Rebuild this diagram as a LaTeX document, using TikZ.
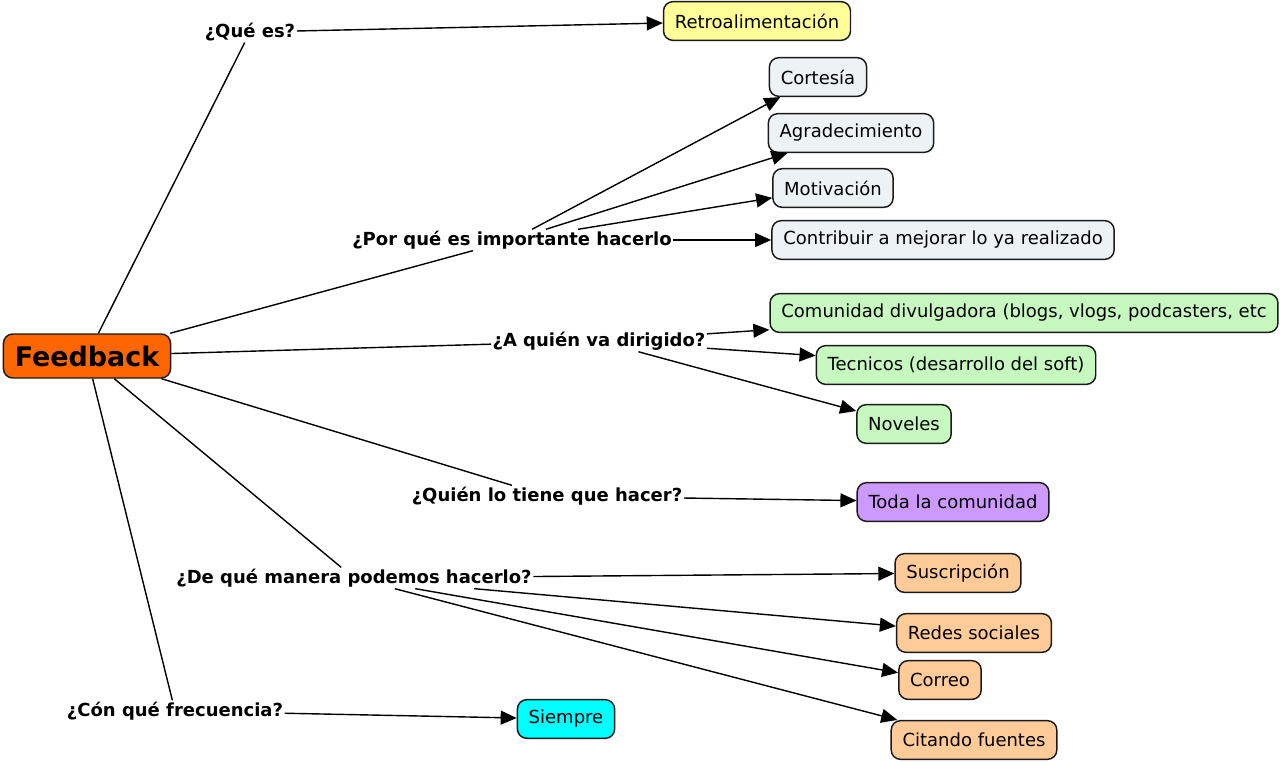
\documentclass[tikz,border=0pt]{standalone}
\usepackage{fontspec}
\setmainfont{DejaVu Sans}
\usetikzlibrary{arrows.meta}
\definecolor{CMOrange}{HTML}{FF6600}
\definecolor{CMYellow}{HTML}{FFFF99}
\definecolor{CMMist}{HTML}{EDF3F5}
\definecolor{CMGreen}{HTML}{C6F8C0}
\definecolor{CMPurple}{HTML}{CC99FF}
\definecolor{CMPeach}{HTML}{FFCC99}
\definecolor{CMCyan}{HTML}{00FFFF}
\definecolor{CMBorder}{HTML}{1A1A1A}
\tikzset{
  cmBase/.style={
    font=\fontsize{13.5pt}{15pt}\selectfont,
    text centered,
    inner xsep=8.5pt,
    inner ysep=3pt,
    line width=1.1pt,
    draw=CMBorder,
    rounded corners=7pt,
    minimum height=29pt
  },
  cmRoot/.style={
    cmBase,
    font=\bfseries\fontsize{20.2pt}{22pt}\selectfont,
    fill=CMOrange,
    minimum height=33pt
  },
  cmWhat/.style={cmBase, fill=CMYellow},
  cmWhy/.style={cmBase, fill=CMMist},
  cmWho/.style={cmBase, fill=CMGreen},
  cmDoer/.style={cmBase, fill=CMPurple},
  cmHow/.style={cmBase, fill=CMPeach},
  cmWhen/.style={cmBase, fill=CMCyan},
  cmLink/.style={
    font=\bfseries\fontsize{13.5pt}{15pt}\selectfont,
    inner sep=1pt
  },
  cmLine/.style={
    line width=1.05pt,
    color=black
  },
  cmArrow/.style={
    cmLine,
    -{Triangle[length=12pt,width=10.5pt]}
  }
}
\begin{document}
\begin{tikzpicture}[x=0.75pt, y=-0.75pt]
  \fill[white] (0,0) rectangle (1280,763);
  \useasboundingbox (0,0) rectangle (1280,763);

  % root
  \node (fb) [cmRoot] at (87,356) {Feedback};

  % link phrases
  \node (qes) [cmLink] at (250,32) {¿Qué es?};
  \node (porq) [cmLink] at (512,240) {¿Por qué es importante hacerlo};
  \node (aqui) [cmLink] at (599,341) {¿A quién va dirigido?};
  \node (quien) [cmLink] at (547,496) {¿Quién lo tiene que hacer?};
  \node (manera) [cmLink] at (354,578) {¿De qué manera podemos hacerlo?};
  \node (frec) [cmLink] at (175,711) {¿Cón qué frecuencia?};

  % concepts
  \node (retro) [cmWhat] at (757,21) {Retroalimentación};
  \node (cort) [cmWhy] at (818,77) {Cortesía};
  \node (agrad) [cmWhy] at (851,133) {Agradecimiento};
  \node (motiv) [cmWhy] at (833,188) {Motivación};
  \node (contr) [cmWhy] at (943,240) {Contribuir a mejorar lo ya realizado};
  \node (comun) [cmWho] at (1024,313) {Comunidad divulgadora (blogs, vlogs, podcasters, etc};
  \node (tecn) [cmWho] at (956,365) {Tecnicos (desarrollo del soft)};
  \node (novel) [cmWho] at (904,424) {Noveles};
  \node (toda) [cmDoer] at (953,502) {Toda la comunidad};
  \node (susc) [cmHow] at (958,573) {Suscripción};
  \node (redes) [cmHow] at (974,633) {Redes sociales};
  \node (corr) [cmHow] at (940,680) {Correo};
  \node (cita) [cmHow] at (974,740) {Citando fuentes};
  \node (siem) [cmWhen] at (566,719) {Siempre};

  % root to link phrases
  \draw [cmLine] (fb) -- (qes);
  \draw [cmLine] (fb) -- (porq);
  \draw [cmLine] (fb) -- (aqui);
  \draw [cmLine] (fb) -- (quien);
  \draw [cmLine] (fb) -- (manera);
  \draw [cmLine] (fb) -- (frec);

  % link phrases to concepts
  \draw [cmArrow] (qes) -- (retro);
  \draw [cmArrow] (porq) -- (cort);
  \draw [cmArrow] (porq) -- (agrad);
  \draw [cmArrow] (porq) -- (motiv);
  \draw [cmArrow] (porq) -- (contr);
  \draw [cmArrow] (aqui) -- (comun);
  \draw [cmArrow] (aqui) -- (tecn);
  \draw [cmArrow] (aqui) -- (novel);
  \draw [cmArrow] (quien) -- (toda);
  \draw [cmArrow] (manera) -- (susc);
  \draw [cmArrow] (manera) -- (redes);
  \draw [cmArrow] (manera) -- (corr);
  \draw [cmArrow] (manera) -- (cita);
  \draw [cmArrow] (frec) -- (siem);
\end{tikzpicture}
\end{document}
